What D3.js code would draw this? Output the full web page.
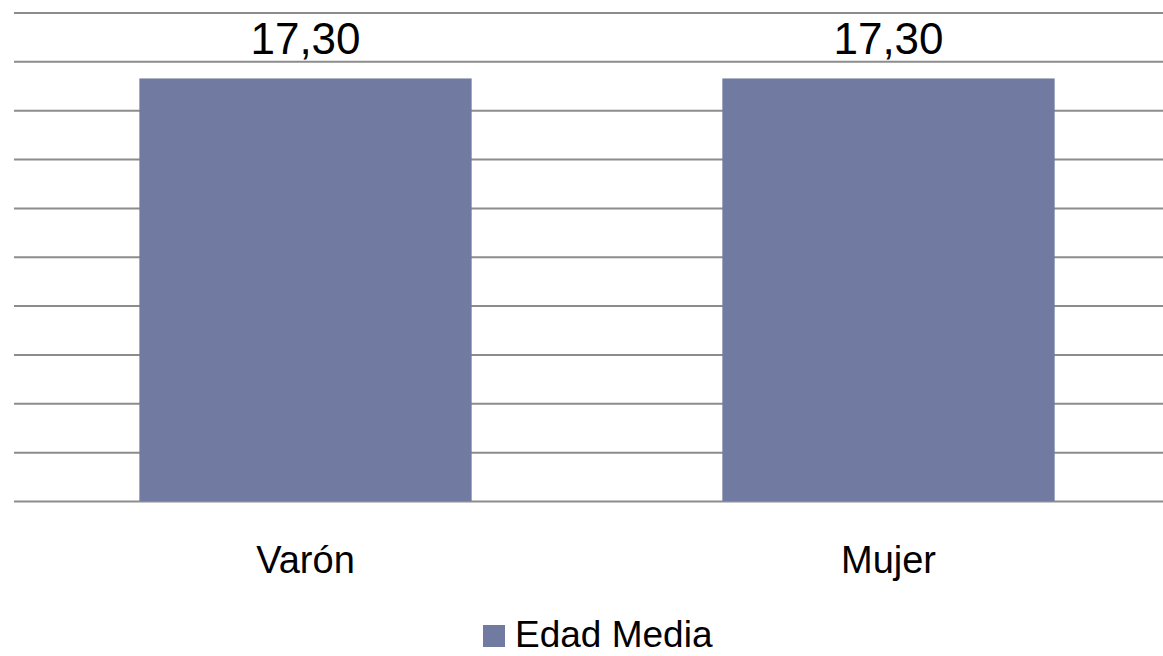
<!DOCTYPE html>
<html>
<head>
<meta charset="utf-8">
<script src="https://cdn.jsdelivr.net/npm/d3@7"></script>
<style>
  body { margin: 0; background: #fff; }
  text { font-family: 'Liberation Sans', Arial, sans-serif; fill: #000; }
</style>
</head>
<body>
<div id="chart"></div>
<script>
const categories = ['Varón', 'Mujer']
const values = [17.3, 17.3]
const seriesName = 'Edad Media'
const yTicks = [0, 2, 4, 6, 8, 10, 12, 14, 16, 18, 20]

const width = 1163
const height = 656
const margin = { top: 12.5, right: -17, bottom: 155, left: 14 }
const barColor = '#717ba1'

const svg = d3
  .select('#chart')
  .append('svg')
  .attr('width', width)
  .attr('height', height)

const xScale = d3
  .scaleBand()
  .domain(categories)
  .range([margin.left, width - margin.right])
  .paddingInner(0.43)
  .paddingOuter(0.215)

const yScale = d3
  .scaleLinear()
  .domain([0, 20])
  .range([height - margin.bottom, margin.top])

// gridlines
const grid = svg
  .append('g')
  .attr('transform', `translate(${margin.left}, 0)`)
  .call(
    d3.axisLeft(yScale)
      .tickValues(yTicks)
      .tickSize(-(width - margin.left))
      .tickFormat('')
  )
grid.select('.domain').remove()
grid.selectAll('line').attr('stroke', '#8c8c8c').attr('stroke-width', 2)

// bars
svg
  .append('g')
  .selectAll('rect')
  .data(values)
  .join('rect')
  .attr('x', (d, i) => xScale(categories[i]))
  .attr('y', (d) => yScale(d))
  .attr('width', xScale.bandwidth())
  .attr('height', (d) => yScale(0) - yScale(d))
  .attr('fill', barColor)

// value labels
svg
  .append('g')
  .selectAll('text')
  .data(values)
  .join('text')
  .attr('x', (d, i) => xScale(categories[i]) + xScale.bandwidth() / 2)
  .attr('y', (d) => yScale(d) - 24)
  .attr('text-anchor', 'middle')
  .style('font-size', '44px')
  .text((d) => d.toFixed(2).replace('.', ','))

// category labels
svg
  .append('g')
  .selectAll('text')
  .data(categories)
  .join('text')
  .attr('x', (d) => xScale(d) + xScale.bandwidth() / 2)
  .attr('y', 573)
  .attr('text-anchor', 'middle')
  .style('font-size', '38px')
  .text((d) => d)

// legend
const legend = svg.append('g').attr('transform', 'translate(483, 625)')
legend.append('rect').attr('width', 22).attr('height', 22).attr('fill', barColor)
legend
  .append('text')
  .attr('x', 32)
  .attr('y', 22)
  .style('font-size', '37px')
  .text(seriesName)
</script>
</body>
</html>
